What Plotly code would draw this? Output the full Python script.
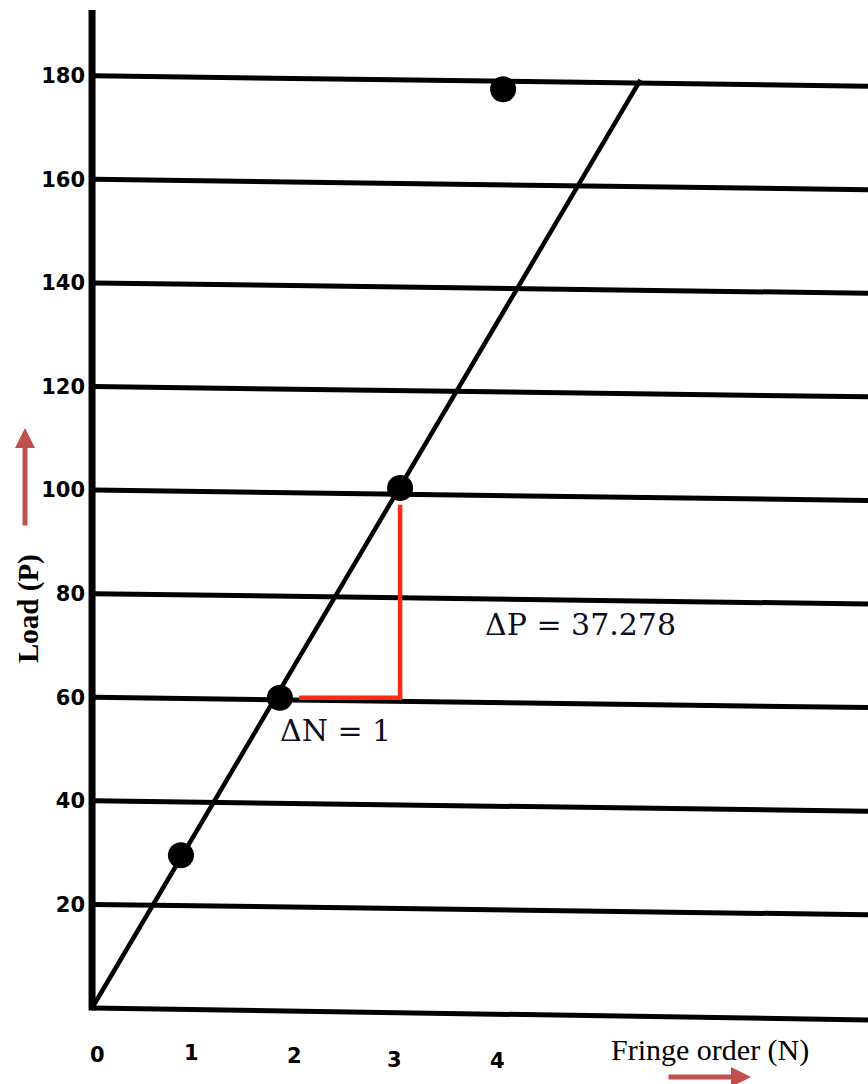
import plotly.graph_objects as go

# Calibration data: fringe order vs applied load
fringe_order = [0.88, 1.86, 3.05, 4.07]
load = [29.5, 59.9, 100.4, 177.4]

# Line through the origin fitted to the lower points
fit_slope = 33.0
fit_end_n = 5.43

# Slope triangle
delta_n = 1
delta_p = 37.278

y_ticks = [20, 40, 60, 80, 100, 120, 140, 160, 180]
x_ticks = [0, 1, 2, 3, 4]
x_tick_text = ["0", "1", "2", "3", "4"]

# hand-drawn look: tick labels sit at slightly uneven places (pixels)
x_label_dx = [5, -2, 0, -1, 1]
x_label_dy = [1055, 1053, 1056, 1060, 1061]
x_max = 7.683
grid_drop = 2.0      # gridlines sag slightly to the right
axis_drop = 2.3

INK = "black"
RED = "#ff2a0f"
ARROW = "#c0504d"

# plot-area box in pixels
L, T, W, H = 87, 10, 781, 1020


def px(xp):
    return (xp - L) / W


def py(yp):
    return (T + H - yp) / H


fig = go.Figure()

# sloping horizontal grid lines
for v in y_ticks:
    fig.add_trace(go.Scatter(x=[0.02, x_max], y=[v, v - grid_drop], mode="lines",
                             line=dict(color=INK, width=5), hoverinfo="skip"))

# hand-drawn axes
fig.add_trace(go.Scatter(x=[0, x_max], y=[0, -axis_drop], mode="lines",
                         line=dict(color=INK, width=5), hoverinfo="skip"))
fig.add_trace(go.Scatter(x=[0, 0], y=[-0.5, 193], mode="lines",
                         line=dict(color=INK, width=7), hoverinfo="skip"))

# fitted line
fig.add_trace(go.Scatter(x=[0, fit_end_n], y=[0, fit_slope * fit_end_n], mode="lines",
                         line=dict(color=INK, width=4.5), hoverinfo="skip"))

# slope triangle between the 2nd and 3rd readings
corner_n = fringe_order[2]
base_p = load[1]
fig.add_trace(go.Scatter(x=[corner_n - delta_n, corner_n, corner_n],
                         y=[base_p, base_p, base_p + delta_p], mode="lines",
                         line=dict(color=RED, width=4.5), hoverinfo="skip"))

# measured points
fig.add_trace(go.Scatter(x=fringe_order, y=load, mode="markers",
                         marker=dict(color=INK, size=26), hoverinfo="skip"))

annotations = []
for t, txt, dx, yp in zip(x_ticks, x_tick_text, x_label_dx, x_label_dy):
    annotations.append(dict(x=t, y=py(yp), xref="x", yref="paper", text=txt, showarrow=False,
                            xanchor="center", yanchor="middle", xshift=dx,
                            font=dict(family="DejaVu Sans", size=21, color=INK, weight="bold")))

serif = "DejaVu Serif"
texts = [
    dict(x=580, y=624, text="ΔP = 37.278",
         font=dict(family=serif, size=30, color="#0c0c22")),
    dict(x=335, y=731, text="ΔN = 1",
         font=dict(family=serif, size=30, color="#0c0c22")),
    dict(x=710, y=1050, text="Fringe order (N)",
         font=dict(family="Liberation Serif", size=30, color=INK)),
    dict(x=28, y=608, text="<b>Load (P)</b>", textangle=-90,
         font=dict(family="Liberation Serif", size=29, color=INK)),
]
for a in texts:
    a.update(x=px(a["x"]), y=py(a["y"]), xref="paper", yref="paper", showarrow=False,
             xanchor="center", yanchor="middle")
    annotations.append(a)

annotations += [
    dict(x=px(25), y=py(428), xref="paper", yref="paper", text="", showarrow=True,
         ax=0, ay=99, arrowhead=2, arrowsize=0.8, arrowwidth=5, arrowcolor=ARROW),
    dict(x=px(751), y=py(1077), xref="paper", yref="paper", text="", showarrow=True,
         ax=-84, ay=0, arrowhead=2, arrowsize=0.8, arrowwidth=5, arrowcolor=ARROW),
]

fig.update_layout(
    width=868, height=1084,
    margin=dict(l=L, r=0, t=T, b=1084 - T - H),
    plot_bgcolor="white", paper_bgcolor="white",
    showlegend=False,
    annotations=annotations,
    xaxis=dict(range=[-0.05, x_max], showgrid=False, zeroline=False, showline=False,
               showticklabels=False, ticks=""),
    yaxis=dict(range=[-4.25, 192.7], showgrid=False, zeroline=False, showline=False,
               tickvals=y_ticks, ticks="", ticklabelstandoff=1,
               tickfont=dict(family="DejaVu Sans", size=21, color=INK, weight="bold")),
)

fig.write_html("out.html")
